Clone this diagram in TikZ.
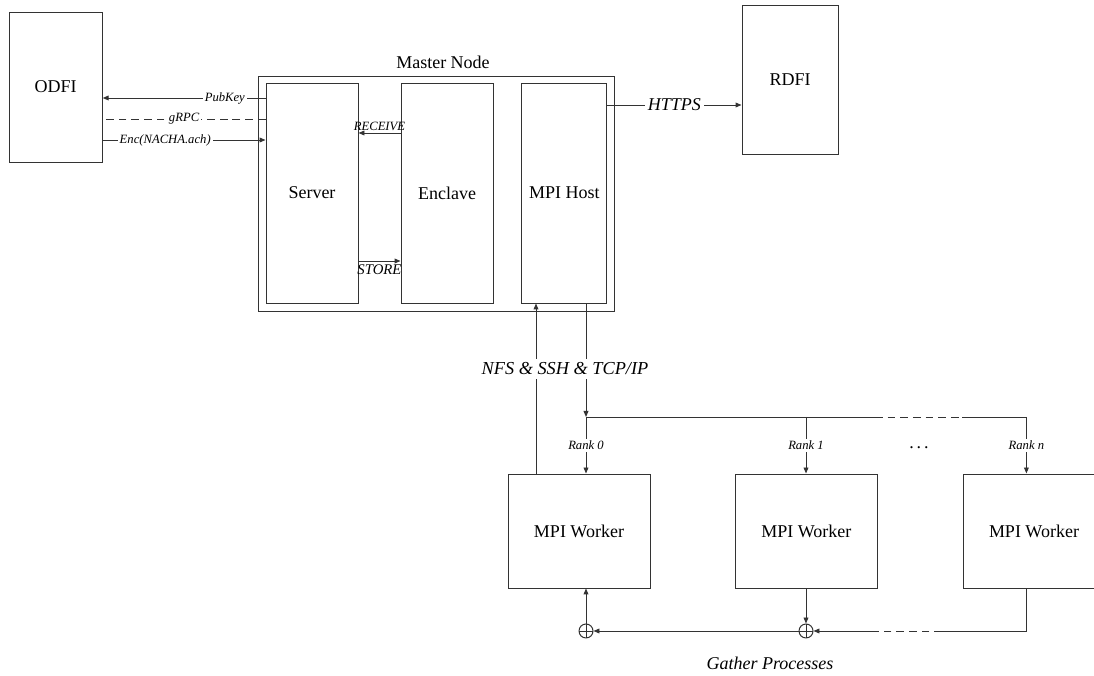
\documentclass[tikz,border=0pt]{standalone}
\usepackage{fontspec}
\setmainfont{Liberation Serif}
\usetikzlibrary{arrows.meta, positioning, calc}
\definecolor{lineink}{HTML}{333333}
\newcommand{\bigsize}{\fontsize{12.8}{15}\selectfont}
\newcommand{\protosize}{\fontsize{13}{15}\selectfont}
\newcommand{\storesize}{\fontsize{10.5}{12}\selectfont}
\newcommand{\tagsize}{\fontsize{9}{11}\selectfont}

\begin{document}
\begin{tikzpicture}[
    box/.style={rectangle, draw=lineink, line width=0.7pt, align=center, font=\bigsize, inner sep=0pt},
    worker/.style={box, minimum width=3.55cm, minimum height=2.85cm},
    arrow/.style={-{Triangle[length=1.5mm, width=1.2mm]}, line width=0.7pt, color=lineink},
    link/.style={line width=0.7pt, color=lineink},
    gap/.style={link, dash pattern=on 5.5pt off 3.5pt},
    tag/.style={font=\tagsize\itshape, text=black, inner sep=1.5pt},
    adder/.style={circle, draw=lineink, line width=0.7pt, minimum size=3.5mm, inner sep=0pt,
        path picture={\draw[lineink, line width=0.7pt]
            (path picture bounding box.north) -- (path picture bounding box.south)
            (path picture bounding box.west) -- (path picture bounding box.east);}}
]
\useasboundingbox (0,0) rectangle (27.35,-16.9);

% banks
\node[box, minimum width=2.33cm, minimum height=3.75cm] (odfi) at (1.39,-2.175) {ODFI};
\node[box, minimum width=2.4cm, minimum height=3.725cm] (rdfi) at (19.75,-1.99) {RDFI};

% master node
\node[box, minimum width=8.9cm, minimum height=5.88cm] (master) at (10.9,-4.84) {};
\node[font=\bigsize] (mastername) at (11.075,-1.55) {Master Node};
\node[box, minimum width=2.3cm, minimum height=5.5cm] (server) at (7.8,-4.825) {Server};
\node[box, minimum width=2.3cm, minimum height=5.5cm] (enclave) at (11.175,-4.825) {Enclave};
\node[box, minimum width=2.125cm, minimum height=5.5cm] (host) at (14.11,-4.825) {MPI Host};

% workers
\foreach \x/\nm in {14.475/w0, 20.16/w1, 25.85/wn}
    \node[worker] (\nm) at (\x,-13.275) {MPI Worker};

\coordinate (b0) at (14.65,-10.425);
\coordinate (b1) at (20.15,-10.425);
\coordinate (bn) at (25.66,-10.425);
\coordinate (busgapL) at (21.875,-10.425);
\coordinate (busgapR) at (24.05,-10.425);
\node[adder] (g0) at (14.65,-15.775) {};
\node[adder] (g1) at (20.15,-15.775) {};
\coordinate (gn) at (25.66,-15.775);
\coordinate (gathergapR) at (23.55,-15.775);
\coordinate (gathergapL) at (21.875,-15.775);

% ODFI <-> server
\draw[arrow] (server.west |- 0,-2.45) -- node[tag, fill=white, pos=0.25] {PubKey} (odfi.east |- 0,-2.45);
\draw[gap] (server.west |- 0,-2.975) -- node[tag, fill=white] {gRPC} (odfi.east |- 0,-2.975);
\draw[arrow] (odfi.east |- 0,-3.5) -- node[tag, fill=white, pos=0.384] {Enc(NACHA.ach)} (server.west |- 0,-3.5);

% server <-> enclave
\draw[arrow] (enclave.west |- 0,-3.325) -- node[tag, above] {RECEIVE} (server.east |- 0,-3.325);
\draw[arrow] (server.east |- 0,-6.525) -- node[tag, below=1pt, font=\storesize\itshape] {STORE} (enclave.west |- 0,-6.525);

\draw[arrow] (host.east |- 0,-2.625) -- node[fill=white, text=black, font=\bigsize\itshape, inner sep=2pt] {HTTPS} (rdfi.west |- 0,-2.625);

% host <-> workers
\draw[arrow] (host.south -| b0) -- (b0);
\draw[arrow] (w0.north -| 13.4,0) -- (host.south -| 13.4,0);
\node[fill=white, font=\protosize\itshape, inner sep=2.5pt] (proto) at (14.125,-9.225) {NFS \& SSH \& TCP/IP};

\draw[link] (b0) -- (busgapL);
\draw[gap] (busgapL) -- (busgapR);
\draw[link] (busgapR) -- (bn);
\foreach \b/\w/\r in {b0/w0/0, b1/w1/1, bn/wn/n}
    \draw[arrow] (\b) -- node[tag, fill=white] {Rank \r} (\w.north -| \b);
\node[font=\bigsize] (dots) at (22.975,-11.2) {.\,.\,.};

% gather
\draw[arrow] (g0) -- (w0.south -| g0);
\draw[arrow] (w1.south -| g1) -- (g1);
\draw[arrow] (g1) -- (g0);
\draw[link] (wn.south -| gn) -- (gn) -- (gathergapR);
\draw[gap] (gathergapR) -- (gathergapL);
\draw[arrow] (gathergapL) -- (g1);
\node[font=\bigsize\itshape] (gathername) at (19.25,-16.575) {Gather Processes};
\end{tikzpicture}
\end{document}
